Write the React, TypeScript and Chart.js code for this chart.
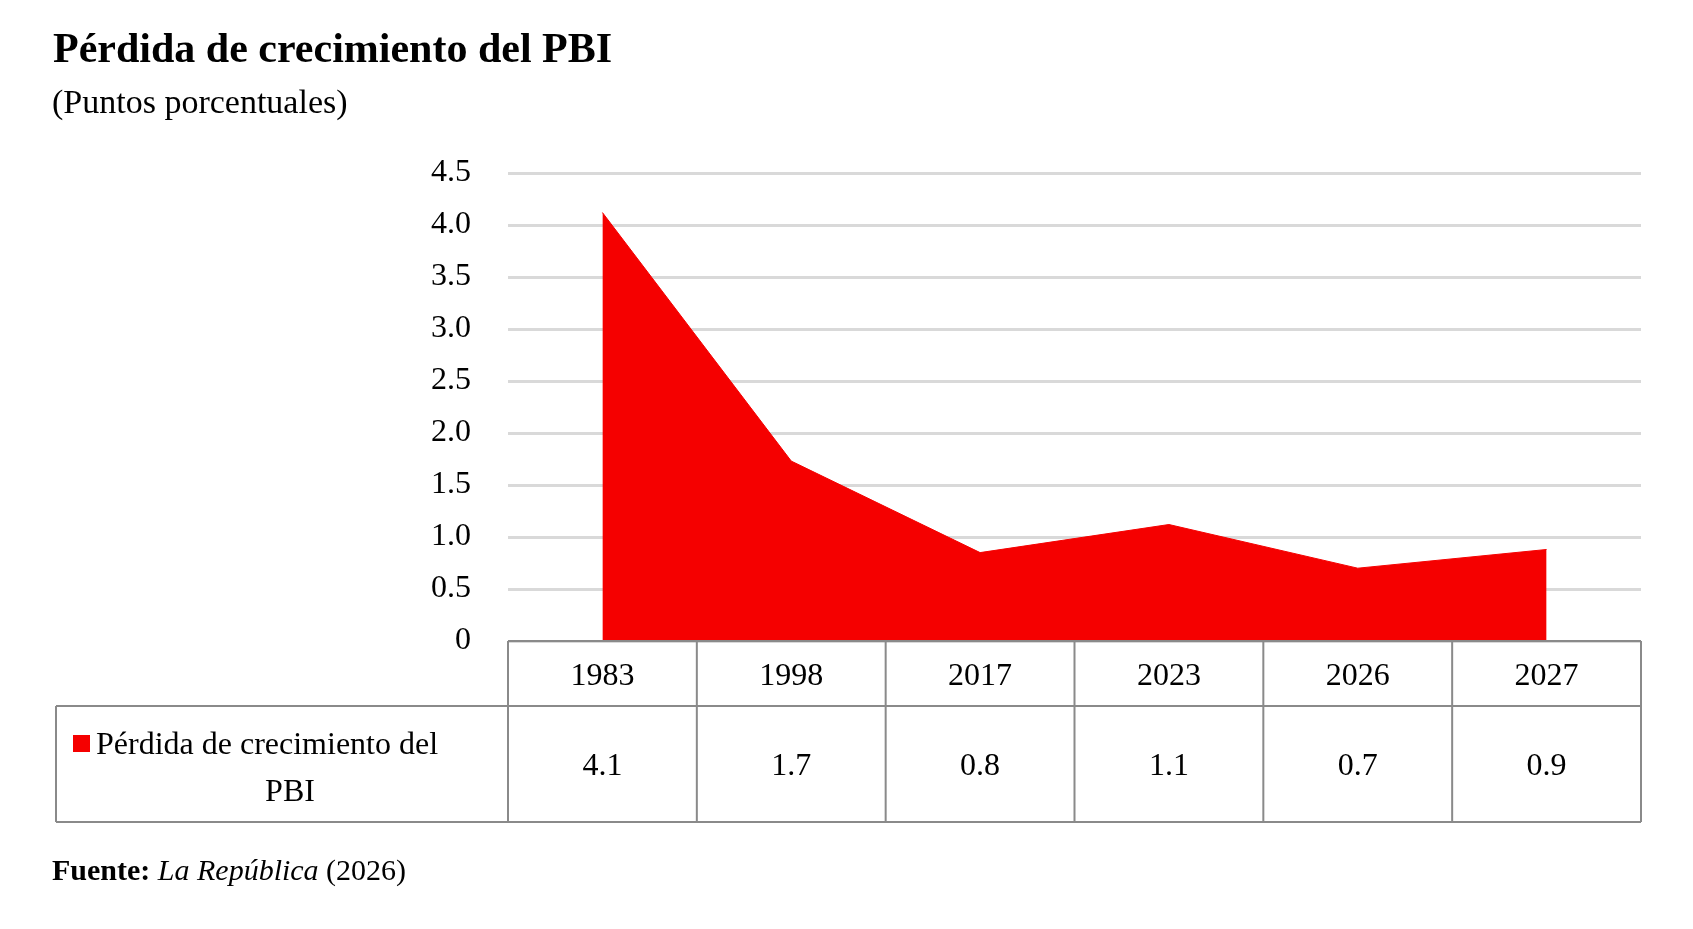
import React, { useEffect, useRef } from "react";
import { Chart, registerables } from "chart.js";
Chart.register(...registerables);

const categories = ["1983", "1998", "2017", "2023", "2026", "2027"];
const values = [4.12, 1.73, 0.85, 1.12, 0.7, 0.88];
const tableLabels = ["4.1", "1.7", "0.8", "1.1", "0.7", "0.9"];
const seriesName = "Pérdida de crecimiento del";
const seriesName2 = "PBI";
const title = "Pérdida de crecimiento del PBI";
const subtitle = "(Puntos porcentuales)";

const RED = "#f50000";
const SERIF = "'Liberation Serif', 'Times New Roman', serif";

export default function App() {
  const ref = useRef<HTMLCanvasElement>(null);
  useEffect(() => {
    const deco = {
      id: "deco",
      afterDraw(chart: any) {
        const ctx = chart.ctx;
        const x = chart.scales.x;
        const y = chart.scales.y;
        const L = x.left, R = x.right;
        const cw = (R - L) / categories.length;
        const top = y.bottom, mid = top + 65, bot = 822, tl = 56;
        ctx.save();
        ctx.fillStyle = "#000";
        ctx.textBaseline = "alphabetic";
        ctx.textAlign = "left";
        ctx.font = `bold 42px ${SERIF}`;
        ctx.fillText(title, 53, 62);
        ctx.font = `34px ${SERIF}`;
        ctx.fillText(subtitle, 52, 113);
        ctx.font = `bold 30px ${SERIF}`;
        ctx.fillText("Fuente:", 52, 880);
        const w1 = ctx.measureText("Fuente: ").width;
        ctx.font = `italic 30px ${SERIF}`;
        ctx.fillText("La República", 52 + w1, 880);
        const w2 = ctx.measureText("La República ").width;
        ctx.font = `30px ${SERIF}`;
        ctx.fillText("(2026)", 52 + w1 + w2, 880);
        // table lines
        ctx.strokeStyle = "#8a8a8a";
        ctx.lineWidth = 2;
        ctx.beginPath();
        ctx.moveTo(L, top); ctx.lineTo(R, top);
        ctx.moveTo(tl, mid); ctx.lineTo(R, mid);
        ctx.moveTo(tl, bot); ctx.lineTo(R, bot);
        ctx.moveTo(tl, mid); ctx.lineTo(tl, bot);
        for (let i = 0; i <= categories.length; i++) {
          ctx.moveTo(L + i * cw, top); ctx.lineTo(L + i * cw, bot);
        }
        ctx.stroke();
        ctx.font = `32px ${SERIF}`;
        ctx.textAlign = "center";
        ctx.textBaseline = "middle";
        categories.forEach((c, i) => {
          ctx.fillText(c, L + (i + 0.5) * cw, (top + mid) / 2 + 3);
          ctx.fillText(tableLabels[i], L + (i + 0.5) * cw, (mid + bot) / 2 + 3);
        });
        ctx.fillStyle = RED;
        ctx.fillRect(73, 735, 17, 17);
        ctx.fillStyle = "#000";
        ctx.textAlign = "left";
        ctx.fillText(seriesName, 96, 746);
        ctx.textAlign = "center";
        ctx.fillText(seriesName2, 290, 793);
        ctx.restore();
      },
    };
    const chart = new Chart(ref.current!, {
      type: "line",
      data: {
        labels: categories,
        datasets: [{
          label: seriesName + " " + seriesName2,
          data: values,
          fill: "origin",
          backgroundColor: RED,
          borderColor: RED,
          borderWidth: 1,
          pointRadius: 0,
          tension: 0,
        }],
      },
      options: {
        animation: false,
        responsive: false,
        layout: { padding: { left: 0, right: 52, top: 173, bottom: 280 } },
        plugins: { legend: { display: false }, tooltip: { enabled: false } },
        scales: {
          x: { offset: true, grid: { display: false }, border: { display: false }, ticks: { display: false } },
          y: {
            min: 0, max: 4.5,
            afterFit: (s: any) => { s.width = 508; },
            border: { display: false },
            grid: { color: "#d9d9d9", lineWidth: 3, drawTicks: false },
            ticks: { stepSize: 0.5, padding: 37, color: "#000", font: { family: SERIF, size: 32 } },
          },
        },
      },
      plugins: [deco],
    });
    return () => chart.destroy();
  }, []);
  return (
    <div style={{ position: "fixed", left: 0, top: 0, width: 1693, height: 929, background: "#fff" }}>
      <canvas ref={ref} width={1693} height={929} style={{ width: 1693, height: 929 }} />
    </div>
  );
}
